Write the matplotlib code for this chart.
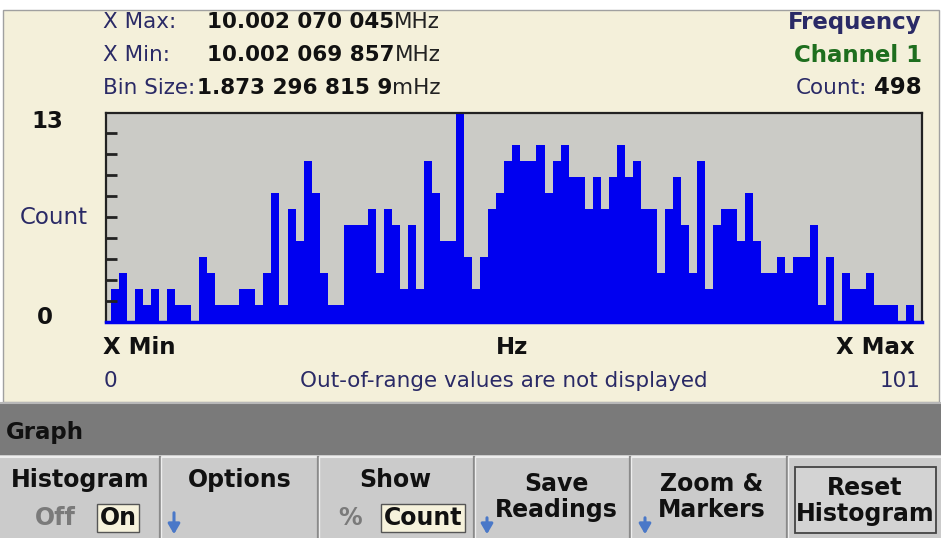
import matplotlib
matplotlib.use("Agg")
import matplotlib.pyplot as plt
from matplotlib.patches import Rectangle

# histogram counts per bin (bins 0..100)
bins = list(range(101))
counts = [2, 3, 0, 2, 1, 2, 0, 2, 1, 1,
          0, 4, 3, 1, 1, 1, 2, 2, 1, 3,
          8, 1, 7, 5, 10, 8, 3, 1, 1, 6,
          6, 6, 7, 3, 7, 6, 2, 6, 2, 10,
          8, 5, 5, 13, 4, 2, 4, 7, 8, 10,
          11, 10, 10, 11, 8, 10, 11, 9, 9, 7,
          9, 7, 9, 11, 9, 10, 7, 7, 3, 7,
          9, 6, 3, 10, 2, 6, 7, 7, 5, 8,
          5, 3, 3, 4, 3, 4, 4, 6, 1, 4,
          0, 3, 2, 2, 3, 1, 1, 1, 0, 1,
          0]
y_max = 13
y_ticks = [1.3, 2.6, 3.9, 5.2, 6.5, 7.8, 9.1, 10.4, 11.7]

header_labels = ["X Max:", "X Min:", "Bin Size:"]
header_values = ["10.002 070 045", "10.002 069 857", "1.873 296 815 9"]
header_units = ["MHz", "MHz", "mHz"]
softkeys = ["Histogram", "Options", "Show", "Save\nReadings", "Zoom &\nMarkers", "Reset\nHistogram"]
total_count = 498

CREAM = "#F4F0DA"
NAVY = "#2A2A66"
GREEN = "#1E6E1E"
BLUE = "#0000F0"
ARROW = "#4A78C8"
FS = 16.5
HFS = 15.5

fig = plt.figure(figsize=(9.41, 5.38), dpi=100)
fig.patch.set_facecolor("white")

# background axes in pixel coordinates
bg = fig.add_axes([0, 0, 1, 1])
bg.set_xlim(0, 941)
bg.set_ylim(538, 0)
bg.axis("off")

bg.add_patch(Rectangle((3, 10), 936, 392, fc=CREAM, ec="#A0A0A0", lw=1))
bg.add_patch(Rectangle((0, 402), 941, 53, fc="#7A7A7A", ec="none"))
bg.plot([0, 941], [403, 403], color="#B8B8B8", lw=1.5)
bg.add_patch(Rectangle((0, 455), 941, 83, fc="#CBCBCB", ec="none"))
bg.plot([0, 941], [456.5, 456.5], color="#EDEDED", lw=1.5)
for sx in [160, 318, 474, 630, 787]:
    bg.plot([sx, sx], [457, 538], color="#8A8A8A", lw=1.6)
    bg.plot([sx + 1.5, sx + 1.5], [457, 538], color="#EEEEEE", lw=1)
bg.add_patch(Rectangle((795, 467), 141, 66, fc="#D3D3D3", ec="#444444", lw=1.3))

# header text
rows_y = [22, 55, 88]
for lab, val, unit, yy in zip(header_labels, header_values, header_units, rows_y):
    bg.text(103, yy, lab, color=NAVY, fontsize=HFS, ha="left", va="center")
    t = bg.text(207 if lab != "Bin Size:" else 197, yy, val, color="#111111",
                fontsize=HFS, fontweight="bold", ha="left", va="center")
    bg.annotate(unit, xy=(1, 0), xycoords=t, color="#222222", fontsize=HFS,
                ha="left", va="bottom")

bg.text(922, 22, "Frequency", color=NAVY, fontsize=FS, fontweight="bold", ha="right", va="center")
bg.text(922, 55, "Channel 1", color=GREEN, fontsize=FS, fontweight="bold", ha="right", va="center")
bg.text(796, 88, "Count:", color=NAVY, fontsize=HFS, ha="left", va="center")
bg.text(922, 88, str(total_count), color="#111111", fontsize=FS, fontweight="bold",
        ha="right", va="center")

# left axis labels
bg.text(47, 121, str(y_max), color="#111111", fontsize=FS, fontweight="bold", ha="center", va="center")
bg.text(54, 218, "Count", color=NAVY, fontsize=FS, ha="center", va="center")
bg.text(45, 318, "0", color="#111111", fontsize=FS, fontweight="bold", ha="center", va="center")

# below the plot
bg.text(103, 348, "X Min", color="#111111", fontsize=FS, fontweight="bold", ha="left", va="center")
bg.text(512, 348, "Hz", color="#111111", fontsize=FS, fontweight="bold", ha="center", va="center")
bg.text(915, 348, "X Max", color="#111111", fontsize=FS, fontweight="bold", ha="right", va="center")
bg.text(104, 381, str(bins[0]), color=NAVY, fontsize=15.5, ha="left", va="center")
bg.text(504, 381, "Out-of-range values are not displayed", color=NAVY, fontsize=15.5,
        ha="center", va="center")
bg.text(921, 381, str(len(bins)), color=NAVY, fontsize=15.5, ha="right", va="center")

bg.text(6, 432, "Graph", color="#111111", fontsize=FS, fontweight="bold", ha="left", va="center")

# softkeys
SK = 17
sk_kw = dict(color="#111111", fontsize=SK, fontweight="bold", va="center", linespacing=1.1)
bg.text(80, 480, softkeys[0], ha="center", **sk_kw)
bg.text(55, 518, "Off", color="#7A7A7A", fontsize=SK, fontweight="bold", ha="center", va="center")
bg.text(118, 518, "On", ha="center",
        bbox=dict(boxstyle="square,pad=0.1", fc="#F6F2DC", ec="#555555", lw=1), **sk_kw)
bg.text(240, 480, softkeys[1], ha="center", **sk_kw)
bg.text(395, 480, softkeys[2], ha="center", **sk_kw)
bg.text(350, 518, "%", color="#7A7A7A", fontsize=SK, fontweight="bold", ha="center", va="center")
bg.text(423, 518, "Count", ha="center",
        bbox=dict(boxstyle="square,pad=0.1", fc="#F6F2DC", ec="#555555", lw=1), **sk_kw)
bg.text(556, 497, softkeys[3], ha="center", **sk_kw)
bg.text(712, 497, softkeys[4], ha="center", **sk_kw)
bg.text(865, 501, softkeys[5], ha="center", **sk_kw)
for axx, y0 in [(174, 510), (487, 515), (645, 515)]:
    bg.annotate("", xy=(axx, 537), xytext=(axx, y0),
                arrowprops=dict(arrowstyle="-|>,head_width=0.35,head_length=0.6",
                                color=ARROW, lw=2.2))

# histogram plot
ax = fig.add_axes([106 / 941, (538 - 321.5) / 538, (922 - 106) / 941, (321.5 - 112.5) / 538])
ax.set_facecolor("#CBCBC6")
ax.bar(bins, counts, width=1.0, align="edge", color=BLUE, edgecolor="none")
ax.set_xlim(-0.6, 101)
ax.set_ylim(0, y_max)
ax.set_xticks([])
ax.set_yticks(y_ticks)
ax.tick_params(axis="y", direction="in", length=8, width=2, color="#222222", labelleft=False)
for side in ["left", "top", "right"]:
    ax.spines[side].set_color("#222222")
    ax.spines[side].set_linewidth(1.6)
ax.spines["bottom"].set_color(BLUE)
ax.spines["bottom"].set_linewidth(2.5)

fig.savefig("out.png", dpi=100, facecolor=fig.get_facecolor())
